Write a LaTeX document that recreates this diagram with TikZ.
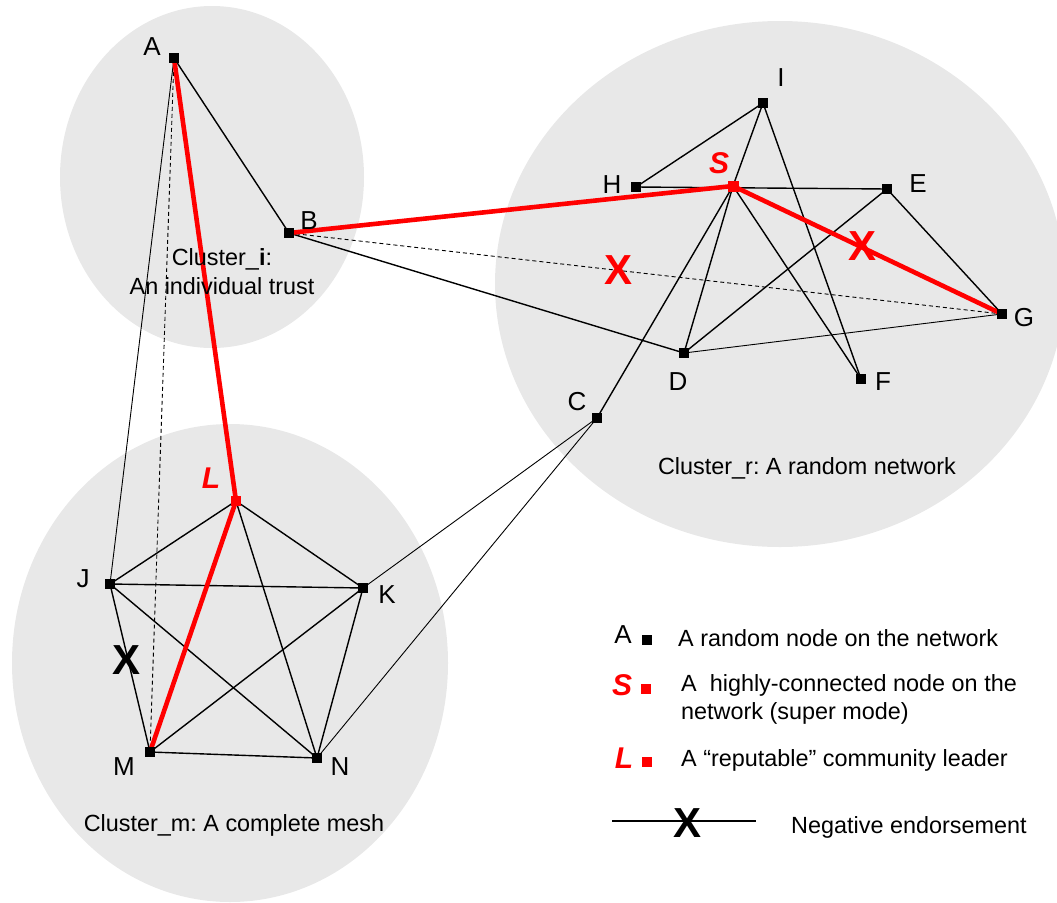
\documentclass[tikz,border=0pt]{standalone}
\usepackage{fontspec}
\setmainfont{Liberation Sans}
\frenchspacing
\begin{document}
\begin{tikzpicture}[x=1pt,y=-1pt,
  blk/.style={fill=black,minimum size=10pt,inner sep=0pt,draw=none,rectangle},
  rnd/.style={fill=red,minimum size=11pt,inner sep=0pt,draw=none,rectangle},
  lbl/.style={font=\fontsize{26}{26}\selectfont,inner sep=0pt},
  rlbl/.style={font=\fontsize{30}{30}\selectfont\bfseries\itshape,text=red,inner sep=0pt},
  txt/.style={font=\fontsize{23.4}{27}\selectfont,inner sep=0pt},
  edge/.style={line width=1.4pt},
  thinedge/.style={line width=0.9pt},
  dsh/.style={line width=0.9pt,dash pattern=on 4pt off 3pt},
  redl/.style={line width=4.6pt,red},
  xmark/.style={font=\fontsize{42}{42}\selectfont\bfseries,inner sep=0pt},
  cluster/.style={fill=black!9,draw=none}
]
\useasboundingbox (0,0) rectangle (1057,902);
% clusters
\fill[cluster] (212,177) ellipse [x radius=152pt, y radius=171pt];
\fill[cluster] (780,284) ellipse [x radius=285pt, y radius=263pt];
\fill[cluster] (230,663) ellipse [x radius=218pt, y radius=239pt];
% node positions
\coordinate (A) at (174,58);
\coordinate (B) at (289,233);
\coordinate (I) at (763,103);
\coordinate (H) at (636,187);
\coordinate (S) at (733,186);
\coordinate (E) at (887,189);
\coordinate (G) at (1002,314);
\coordinate (D) at (684,353);
\coordinate (F) at (861,379);
\coordinate (C) at (597,418);
\coordinate (L) at (236,501);
\coordinate (J) at (110,584);
\coordinate (K) at (363,588);
\coordinate (M) at (150,752);
\coordinate (N) at (317,758);
% black connectors
\draw[edge] (A) -- (B);
\draw[thinedge] (A) -- (J);
\draw[dsh] (A) -- (M);
\draw[edge] (B) -- (D);
\draw[dsh] (B) -- (G);
\draw[edge] (H) -- (I);
\draw[edge] (H) -- (E);
\draw[edge] (I) -- (S);
\draw[edge] (S) -- (D);
\draw[edge] (S) -- (C);
\draw[edge] (S) -- (F);
\draw[edge] (I) -- (F);
\draw[edge] (E) -- (D);
\draw[edge] (E) -- (G);
\draw[thinedge] (D) -- (G);
\draw[thinedge] (C) -- (K);
\draw[thinedge] (C) -- (N);
\draw[edge] (L) -- (J);
\draw[edge] (L) -- (K);
\draw[edge] (L) -- (N);
\draw[edge] (J) -- (K);
\draw[edge] (J) -- (N);
\draw[edge] (J) -- (M);
\draw[edge] (K) -- (M);
\draw[edge] (K) -- (N);
\draw[edge] (M) -- (N);
% red connectors
\draw[redl] (A) -- (L);
\draw[redl] (L) -- (M);
\draw[redl] (B) -- (S);
\draw[redl] (S) -- (G);
% node markers
\foreach \n in {A,B,I,H,E,G,D,F,C,J,K,M,N} \node[blk] (\n m) at (\n) {};
\node[rnd] (Sm) at (S) {};
\node[rnd,minimum size=10pt] (Lm) at (L) {};
% labels
\node[lbl] (Al) at (152,47) {A};
\node[lbl] (Bl) at (309,221) {B};
\node[lbl] (Il) at (781,78) {I};
\node[lbl] (Hl) at (612,185) {H};
\node[lbl] (El) at (918,184) {E};
\node[lbl] (Gl) at (1024,318) {G};
\node[lbl] (Dl) at (678,382) {D};
\node[lbl] (Fl) at (883,382) {F};
\node[lbl] (Cl) at (577,402) {C};
\node[lbl] (Jl) at (83,579) {J};
\node[lbl] (Kl) at (387,595) {K};
\node[lbl] (Ml) at (124,767) {M};
\node[lbl] (Nl) at (340,767) {N};
\node[rlbl] (Sl) at (719,163) {S};
\node[rlbl] (Ll) at (211,478) {L};
% cluster texts
\node[txt,anchor=mid] (ci1) at (222,263) {Cluster\_\textbf{i}:};
\node[txt,anchor=mid] (ci2) at (222,292) {An individual trust};
\node[txt,anchor=mid] (cr) at (807,472) {Cluster\_r: A random network};
\node[txt,anchor=mid] (cm) at (234,829) {Cluster\_m: A complete mesh};
% negative endorsement marks
\node[xmark,text=red] (x1) at (618,270) {X};
\node[xmark,text=red] (x2) at (862,246) {X};
\node[xmark] (x3) at (127,660) {X};
% legend
\node[lbl] (LAl) at (623,635) {A};
\node[blk] (LAm) at (647,640) {};
\node[txt,anchor=mid west] (LAt) at (678,644) {A random node on the network};
\node[rlbl] (LSl) at (622,685) {S};
\node[rnd,minimum size=10pt] (LSm) at (646,689) {};
\node[txt,anchor=mid west] (LSt1) at (681,689) {A~\ highly-connected node on the};
\node[txt,anchor=mid west] (LSt2) at (681,717) {network (super mode)};
\node[rlbl] (LLl) at (624,758) {L};
\node[rnd,minimum size=10pt] (LLm) at (647,762) {};
\node[txt,anchor=mid west] (LLt) at (681,764) {A “reputable” community leader};
\coordinate (ng1) at (612,821);
\coordinate (ng2) at (756,821);
\draw[edge] (ng1) -- (ng2);
\node[xmark] (LX) at (687,823) {X};
\node[txt,anchor=mid west] (LNt) at (791,831) {Negative endorsement};
\end{tikzpicture}
\end{document}
